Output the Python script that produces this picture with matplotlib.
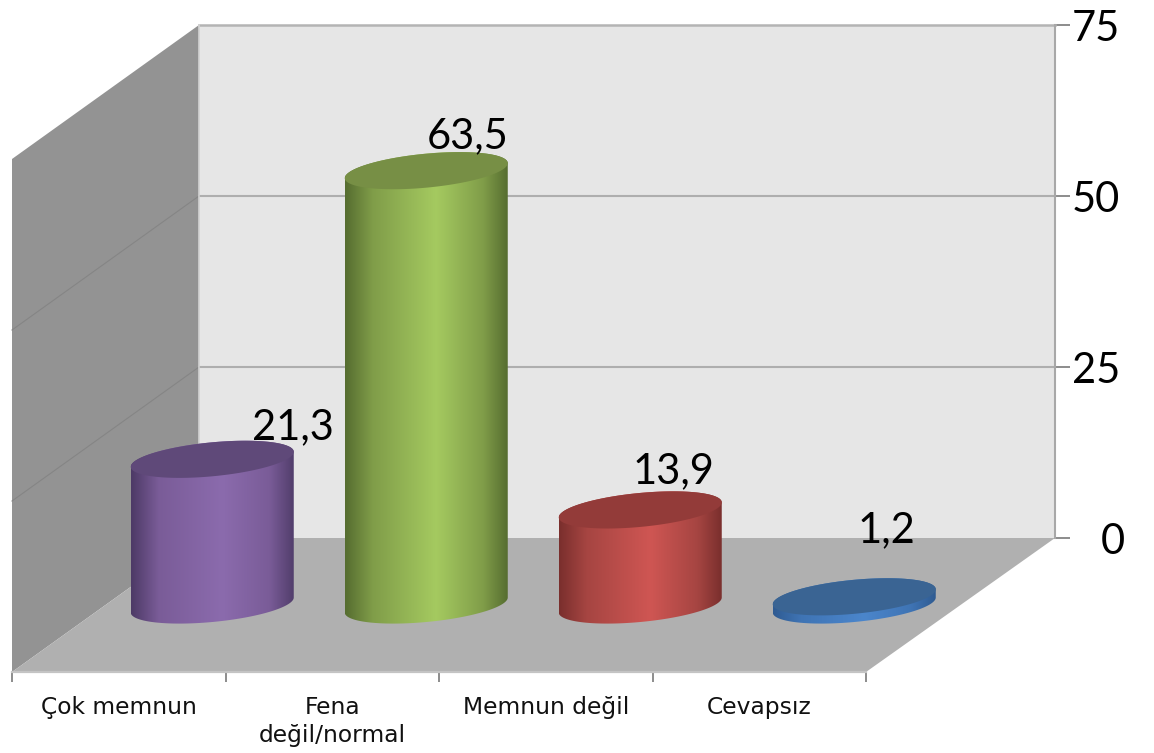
import numpy as np
import matplotlib
matplotlib.use("Agg")
import matplotlib.pyplot as plt
from matplotlib.patches import Polygon
from matplotlib.colors import LinearSegmentedColormap
from matplotlib.transforms import ScaledTranslation

categories = ["Çok memnun", "Fena\ndeğil/normal", "Memnun değil", "Cevapsız"]
values = [21.3, 63.5, 13.9, 1.2]
y_ticks = [0, 25, 50, 75]
body_colors = [
    ["#4d3a66", "#7a5c98", "#8b6bad", "#7a5c98", "#523e6c"],
    ["#566d30", "#809d49", "#a5ca60", "#809d49", "#566d30"],
    ["#7a2f2d", "#a64542", "#cf5653", "#a64542", "#7a2f2d"],
    ["#2f5b92", "#3f74b4", "#4b86cc", "#3f74b4", "#2f5b92"],
]
cap_colors = ["#5f4979", "#778f45", "#933b39", "#3a6493"]
label_offsets_px = [(81, -36), (41, -38), (33, -42), (32, -70)]

W, H = 1154, 753
fig = plt.figure(figsize=(W / 100, H / 100), dpi=100, facecolor="white")
L, R, T, B = 12, 1055, 25, 538
ax = fig.add_axes([L / W, 1 - B / H, (R - L) / W, (B - T) / H])
PX_X = 213.5
PX_Y = (B - T) / 75
x_max = -0.5 + (R - L) / PX_X
ax.set_xlim(-0.5, x_max)
ax.set_ylim(0, 75)
ax.set_facecolor("none")

DX = 187 / PX_X   # depth vector in data units
DY = 134 / PX_Y
xl, xr = -0.5, 3.5
ymax = y_ticks[-1]
xlb, xrb = xl + DX, x_max

def poly(pts, color, z):
    ax.add_patch(Polygon(pts, closed=True, fc=color, ec="none", zorder=z, clip_on=False))

poly([(xlb, 0), (xrb, 0), (xrb, ymax), (xlb, ymax)], "#e6e6e6", 1)
poly([(xl, -DY), (xlb, 0), (xlb, ymax), (xl, ymax - DY)], "#939393", 1)
poly([(xl, -DY), (xr, -DY), (xrb, 0), (xlb, 0)], "#b0b0b0", 1)

for v in y_ticks[1:-1]:
    ax.plot([xlb, xrb], [v, v], color="#aeaeae", lw=1.5, zorder=2, clip_on=False)
    ax.plot([xl, xlb], [v - DY, v], color="#858585", lw=0.8, zorder=2, clip_on=False)
ax.plot([xlb, xrb], [ymax, ymax], color="#b4b4b4", lw=1.8, zorder=2, clip_on=False)
ax.plot([xlb, xlb], [0, ymax], color="#d2d2d2", lw=1.2, zorder=2, clip_on=False)
ax.plot([xrb, xrb], [0, ymax], color="#a8a8a8", lw=1.5, zorder=2, clip_on=False)

for s in ["left", "top", "right"]:
    ax.spines[s].set_visible(False)
ax.spines["bottom"].set_position(("outward", 134 * 0.72))
ax.spines["bottom"].set_bounds(xl, xr)
ax.spines["bottom"].set_color("#c4c4c4")
ax.spines["bottom"].set_linewidth(1.6)
ax.yaxis.tick_right()
ax.set_yticks(y_ticks)
ax.tick_params(axis="y", length=11, width=1.4, color="#8c8c8c", pad=36,
               labelsize=30, labelcolor="#000000")
for t in ax.get_yticklabels():
    t.set_fontfamily("Lato")
    t.set_ha("right")
zero_label = ax.get_yticklabels()[0]
zero_label.set_transform(zero_label.get_transform()
                         + ScaledTranslation(3 / 72, 0, fig.dpi_scale_trans))
ax.set_xticks(np.arange(xl, xr + 1))
ax.set_xticklabels([])
ax.tick_params(axis="x", which="major", length=7, width=1.4, color="#8c8c8c")
ax.set_xticks(range(len(categories)), labels=categories, minor=True)
ax.tick_params(axis="x", which="minor", length=0, pad=17, labelsize=16.8, labelcolor="#111111")
for t in ax.get_xticklabels(minor=True):
    t.set_fontfamily("DejaVu Sans")
    t.set_linespacing(1.3)

half_w = (163 / 2) / PX_X
half_h = 17.0 / PX_Y
shear = 7.5 / PX_Y
t_arc = np.linspace(0, 2 * np.pi, 361)

def ell(cx, cy, t):
    return np.c_[cx + half_w * np.cos(t), cy + shear * np.cos(t) + half_h * np.sin(t)]

for i, v in enumerate(values):
    cx = i * 214 / PX_X + DX / 2
    y0 = -DY / 2
    y1 = y0 + v
    low = ell(cx, y0, np.linspace(np.pi, 2 * np.pi, 180))
    up = ell(cx, y1, np.linspace(0, np.pi, 180))
    outline = Polygon(np.vstack([low, up]), closed=True, transform=ax.transData, fc="none", ec="none")
    ax.add_patch(outline)
    outline.set_clip_on(False)
    cmap = LinearSegmentedColormap.from_list(
        f"c{i}", list(zip([0, 0.17, 0.56, 0.85, 1], body_colors[i])))
    grad = np.linspace(0, 1, 256).reshape(1, -1)
    top = y1 + half_h + shear + 1
    bot = y0 - half_h - shear - 1
    im = ax.imshow(grad, cmap=cmap, aspect="auto", interpolation="bilinear",
                   extent=(cx - half_w, cx + half_w, bot, top), zorder=3)
    im.set_clip_path(outline)
    im.set_clip_box(fig.bbox)
    poly(ell(cx, y1, t_arc), cap_colors[i], 4)
    ox, oy = label_offsets_px[i]
    ax.annotate(f"{v:.1f}".replace(".", ","), xy=(cx, y1), xytext=(ox * 0.72, -oy * 0.72),
                textcoords="offset points", ha="center", va="center_baseline",
                fontsize=30, family="Lato", color="#000000", zorder=6, annotation_clip=False)

ax.set_xlim(-0.5, x_max)
ax.set_ylim(0, 75)
fig.savefig("out.png", dpi=100)
